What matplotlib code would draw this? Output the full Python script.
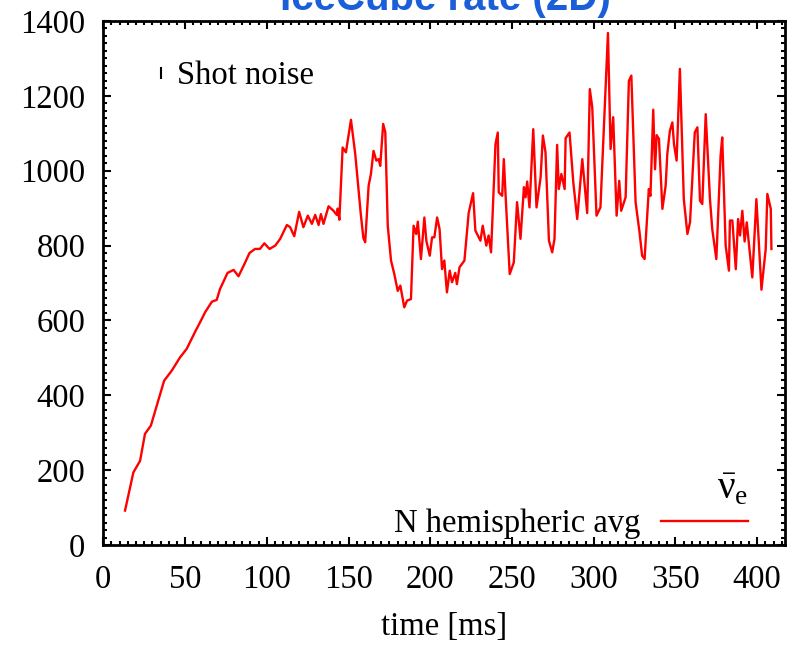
# -*- coding: utf-8 -*-
import matplotlib
matplotlib.use('Agg')
import matplotlib.pyplot as plt
from matplotlib.lines import Line2D
from matplotlib.ticker import MultipleLocator

plt.rcParams['font.family'] = ['Liberation Serif', 'DejaVu Serif']
plt.rcParams['mathtext.fontset'] = 'custom'
plt.rcParams['mathtext.rm'] = 'Liberation Serif'
plt.rcParams['mathtext.it'] = 'Liberation Serif:italic'

# time [ms] and event rate
t_ms = [
    13.3, 18.4, 22.5, 25.5, 29.1, 33.6, 37.2, 41.9, 46.9, 51.0,
    56.2, 59.2, 62.3, 66.4, 69.4, 71.4, 76.0, 79.7, 82.7, 86.8,
    89.4, 92.8, 95.8, 98.5, 101.7, 105.2, 108.2, 112.3, 114.3, 116.8,
    119.8, 122.4, 125.1, 127.6, 129.6, 131.7, 133.1, 134.7, 137.8, 140.8,
    142.8, 143.4, 144.4, 146.4, 148.4, 151.5, 154.1, 157.6, 159.1, 160.2,
    162.3, 163.7, 165.3, 167.0, 168.4, 169.4, 171.2, 172.5, 174.0, 176.0,
    178.0, 180.1, 181.7, 184.1, 185.8, 188.2, 189.8, 191.4, 192.4, 194.3,
    196.4, 197.6, 199.7, 201.1, 202.5, 204.2, 205.7, 207.2, 208.6, 210.2,
    211.9, 213.3, 215.3, 216.3, 217.9, 220.9, 223.5, 226.2, 227.6, 230.7,
    232.1, 234.3, 235.7, 237.2, 239.9, 241.3, 241.9, 244.0, 245.0, 246.4,
    248.6, 251.1, 253.1, 255.2, 257.3, 258.3, 259.3, 260.7, 263.0, 265.0,
    267.5, 268.9, 270.5, 272.6, 274.6, 276.0, 277.6, 278.6, 280.2, 282.2,
    282.8, 285.2, 287.5, 289.9, 293.0, 296.0, 297.6, 299.1, 301.7, 304.1,
    308.7, 310.3, 311.9, 314.0, 315.6, 316.8, 319.5, 321.5, 323.0, 325.6,
    328.0, 329.6, 331.1, 333.7, 334.7, 336.4, 337.5, 338.5, 339.9, 342.0,
    344.0, 345.0, 346.6, 348.1, 349.1, 350.7, 352.7, 355.1, 357.3, 358.9,
    361.8, 363.4, 365.0, 366.4, 368.5, 371.1, 372.5, 375.0, 377.6, 378.6,
    380.7, 382.7, 383.3, 384.8, 386.9, 388.3, 389.5, 390.9, 392.3, 393.6,
    397.0, 399.5, 402.6, 405.2, 406.2, 408.3, 408.7,
]
rate = [
    92, 194, 225, 297, 319, 386, 439, 466, 501, 524,
    570, 595, 622, 650, 655, 684, 727, 735, 718, 755,
    780, 791, 791, 806, 791, 800, 818, 855, 849, 825,
    890, 849, 880, 858, 882, 855, 884, 858, 905, 893,
    882, 899, 869, 1062, 1049, 1136, 1045, 880, 820, 809,
    960, 991, 1053, 1027, 1031, 1013, 1125, 1103, 853, 760,
    724, 679, 693, 635, 653, 657, 853, 831, 864, 764,
    875, 813, 773, 822, 822, 875, 844, 737, 760, 675,
    733, 702, 727, 697, 742, 760, 887, 940, 840, 813,
    853, 800, 827, 782, 1071, 1102, 942, 933, 1031, 907,
    724, 755, 916, 818, 956, 929, 971, 902, 1111, 902,
    982, 1094, 1049, 813, 782, 818, 1069, 951, 991, 951,
    1087, 1102, 969, 871, 1031, 887, 1218, 1169, 880, 902,
    1368, 1058, 1143, 880, 973, 893, 929, 1240, 1254, 916,
    836, 773, 764, 951, 933, 1163, 1004, 1095, 1085, 898,
    960, 1045, 1107, 1129, 1071, 1027, 1272, 924, 831, 862,
    1102, 1116, 920, 911, 1151, 924, 844, 764, 1040, 1089,
    800, 733, 867, 867, 737, 871, 827, 893, 811, 862,
    715, 924, 682, 791, 938, 898, 791,
]

x_ticks = [0, 50, 100, 150, 200, 250, 300, 350, 400]
y_ticks = [0, 200, 400, 600, 800, 1000, 1200, 1400]

FS = 23.5

fig = plt.figure(figsize=(7.96, 6.45), dpi=100)
ax = fig.add_axes([103.3 / 796, 1 - 545 / 645, 681.7 / 796, 524 / 645])

line, = ax.plot(t_ms, rate, color='#ff0000', lw=1.7)

ax.set_xlim(0, 417)
ax.set_ylim(0, 1400)
ax.set_xticks(x_ticks)
ax.set_yticks(y_ticks)
ax.xaxis.set_minor_locator(MultipleLocator(5))
ax.yaxis.set_minor_locator(MultipleLocator(20))
ax.tick_params(which='both', direction='in', top=True, right=True, labelsize=FS)
ax.tick_params(which='major', length=6, width=1.5)
ax.tick_params(which='minor', length=3, width=1.5)
ax.tick_params(axis='x', pad=14)
ax.tick_params(axis='y', pad=13)
for s in ax.spines.values():
    s.set_linewidth(2)

ax.set_xlabel('time [ms]', fontsize=FS, labelpad=12)

# shot noise key (top left)
shot = Line2D([], [], color='k', marker='|', ls='none', markersize=9, markeredgewidth=1.5)
leg1 = ax.legend([shot], ['Shot noise'], loc='center left', bbox_to_anchor=(0.0726, 0.895),
                 frameon=False, fontsize=FS, handlelength=0.5, handletextpad=0.25,
                 borderpad=0, borderaxespad=0)
ax.add_artist(leg1)

# line key (bottom right)
leg2 = ax.legend([line], ['N hemispheric avg'], loc='lower right', bbox_to_anchor=(0.9457, 0.0115),
                 frameon=False, fontsize=FS, handlelength=2.67, handletextpad=0.64,
                 markerfirst=False, borderpad=0, borderaxespad=0,
                 title=r'$\bar{\mathrm{ν}}_{\mathrm{e}}$', title_fontsize=28,
                 alignment='right')
leg2._legend_box.sep = 0

fig.text(445 / 796, 1 - 10 / 645, 'IceCube rate (2D)', ha='center', va='baseline',
         fontsize=29, fontweight='bold', color='#1a5fd9', family='Liberation Sans')

fig.savefig('out.png', dpi=100)
